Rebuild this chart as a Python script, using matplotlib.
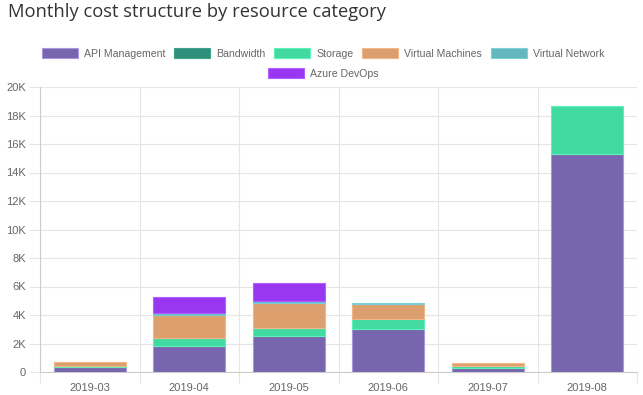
import numpy as np
import matplotlib.pyplot as plt
from matplotlib.patches import Patch

months = ["2019-03", "2019-04", "2019-05", "2019-06", "2019-07", "2019-08"]
api_mgmt = [320, 1820, 2550, 3000, 300, 15280]
bandwidth = [10, 10, 10, 10, 5, 10]
storage = [110, 570, 560, 720, 110, 3390]
virtual_machines = [280, 1630, 1710, 1030, 210, 0]
virtual_network = [5, 100, 120, 110, 5, 0]
azure_devops = [0, 1140, 1280, 0, 0, 0]

names = ["API Management", "Bandwidth", "Storage", "Virtual Machines",
         "Virtual Network", "Azure DevOps"]
series = [api_mgmt, bandwidth, storage, virtual_machines, virtual_network, azure_devops]
colors = ["#7766ae", "#2e8f7a", "#41dba2", "#dc9f6d", "#63b8c0", "#9936f2"]
edges = ["#a796e0", "#3fa08b", "#5ef0b8", "#f0b887", "#7cd0d8", "#b060ff"]

fig = plt.figure(figsize=(6.43, 3.95), dpi=100)
ax = fig.add_axes([40/643, 23/395, 597/643, 285/395])

x = np.arange(len(months))
bottom = np.zeros(len(months))
for vals, c, ec, name in zip(series, colors, edges, names):
    vals = np.array(vals, dtype=float)
    keep = vals > 0
    lw = np.where(vals[keep] >= 50, 0.8, 0)
    ax.bar(x[keep], vals[keep], width=0.72, bottom=bottom[keep], color=c, edgecolor=ec,
           linewidth=lw, label=name, zorder=3)
    bottom += vals

ax.set_xlim(-0.5, len(months) - 0.5)
ax.set_ylim(0, 20000)
yt = np.arange(0, 20001, 2000)
ax.set_yticks(yt)
ax.set_yticklabels(["0"] + [f"{v//1000}K" for v in yt[1:]])
ax.set_xticks(x)
ax.set_xticklabels(months)
ax.set_xticks(np.arange(-0.5, len(months)), minor=True)

ax.tick_params(axis="x", which="major", length=0, pad=8, labelsize=8, labelcolor="#666666")
ax.tick_params(axis="x", which="minor", length=8, color="#e6e6e6", width=0.8)
ax.tick_params(axis="y", length=8, color="#e6e6e6", width=0.8, pad=2,
               labelsize=8, labelcolor="#666666")
ax.grid(axis="y", color="#e6e6e6", linewidth=0.8, zorder=0)
ax.grid(axis="x", which="minor", color="#e6e6e6", linewidth=0.8, zorder=0)
for s in ["top", "right"]:
    ax.spines[s].set_visible(False)
for s in ["left", "bottom"]:
    ax.spines[s].set_color("#cccccc")
    ax.spines[s].set_linewidth(0.8)

for lbl in ax.get_xticklabels() + ax.get_yticklabels():
    lbl.set_fontfamily("Liberation Sans")

fig.text(8/643, 1 - 12/395, "Monthly cost structure by resource category",
         fontsize=13.2, color="#333333", family="Open Sans", va="center", ha="left")

handles = [Patch(facecolor=c, edgecolor=ec, linewidth=0.8) for c, ec in zip(colors, edges)]
leg_kw = dict(frameon=False, handlelength=3.4, handleheight=1.0, handletextpad=0.57,
              columnspacing=0.85, borderpad=0, borderaxespad=0,
              prop={"family": "Liberation Sans", "size": 7.6}, labelcolor="#666666")
fig.legend(handles[:5], names[:5], ncol=5, loc="center",
           bbox_to_anchor=(323/643, 1 - 53.5/395), **leg_kw)
fig.legend(handles[5:], names[5:], ncol=1, loc="center",
           bbox_to_anchor=(323/643, 1 - 73.5/395), **leg_kw)

fig.savefig("out.png", dpi=100)
